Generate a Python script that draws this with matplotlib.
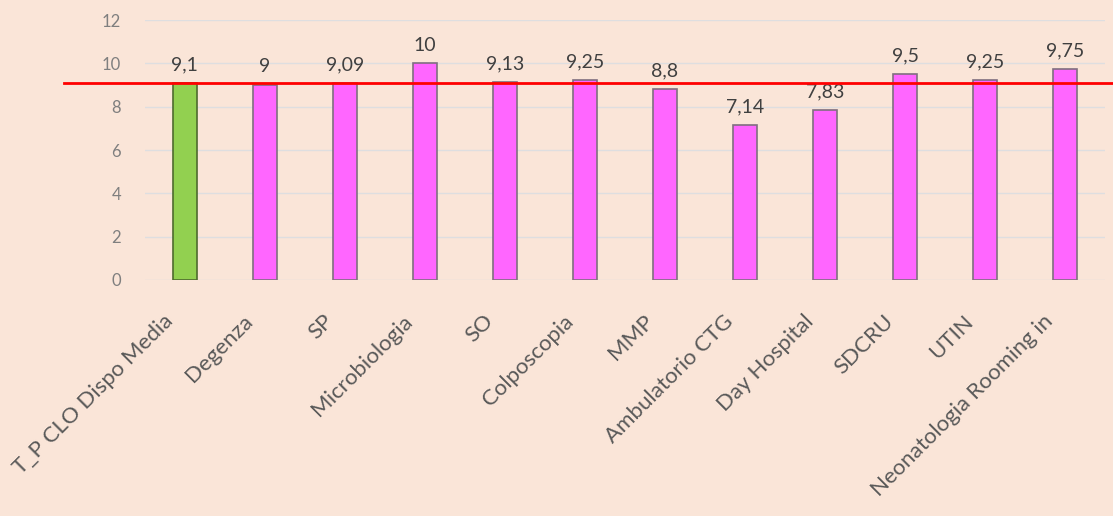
import matplotlib
matplotlib.use("Agg")
import matplotlib.pyplot as plt
import matplotlib.transforms as mtransforms

categories = ["T_P CLO Dispo Media", "Degenza", "SP", "Microbiologia", "SO",
              "Colposcopia", "MMP", "Ambulatorio CTG", "Day Hospital", "SDCRU",
              "UTIN", "Neonatologia Rooming in"]
values = [9.1, 9, 9.09, 10, 9.13, 9.25, 8.8, 7.14, 7.83, 9.5, 9.25, 9.75]
value_labels = ["9,1", "9", "9,09", "10", "9,13", "9,25", "8,8", "7,14", "7,83", "9,5", "9,25", "9,75"]
reference_value = 9.1
yticks = [0, 2, 4, 6, 8, 10, 12]

bg = "#FAE5D8"
plt.rcParams['font.family'] = ['Lato', 'DejaVu Sans']

fig = plt.figure(figsize=(11.13, 5.16), dpi=100, facecolor=bg)
ax = fig.add_axes([0.130, 0.4574, 0.863, 0.5036])
ax.set_facecolor(bg)

x = list(range(len(categories)))
colors = ["#92D050"] + ["#FF66FF"] * (len(categories) - 1)
edges = ["#4E6B2E"] + ["#7F6F7F"] * (len(categories) - 1)
ax.bar(x, values, width=0.3, color=colors, edgecolor=edges, linewidth=1.2, zorder=3)

for xi, v, lab in zip(x, values, value_labels):
    ax.text(xi, v + 0.45, lab, ha="center", va="bottom", fontsize=14, color="#404040", zorder=4)

ax.set_xlim(-0.5, len(categories) - 0.5)
ax.set_ylim(0, 12)
ax.set_yticks(yticks)
ax.set_yticklabels([str(t) for t in yticks], fontsize=12, color="#7F7F7F")
ax.yaxis.grid(True, color="#DEDEE0", linewidth=1, zorder=0)
ax.tick_params(axis="y", length=0, pad=17)
ax.tick_params(axis="x", length=0, pad=0)
ax.set_xticks(x)
ax.set_xticklabels(categories, rotation=45, ha="right", rotation_mode="anchor",
                   fontsize=16, color="#595959")
offset = mtransforms.ScaledTranslation(-22 / 100, -31 / 100, fig.dpi_scale_trans)
for lbl in ax.get_xticklabels():
    lbl.set_transform(lbl.get_transform() + offset)
for s in ax.spines.values():
    s.set_visible(False)

trans = mtransforms.blended_transform_factory(fig.transFigure, ax.transData)
ax.plot([64 / 1113, 1.0], [reference_value, reference_value], color="#FF0000",
        linewidth=2, transform=trans, clip_on=False, zorder=5)

fig.savefig("out.png", dpi=100, facecolor=bg)
